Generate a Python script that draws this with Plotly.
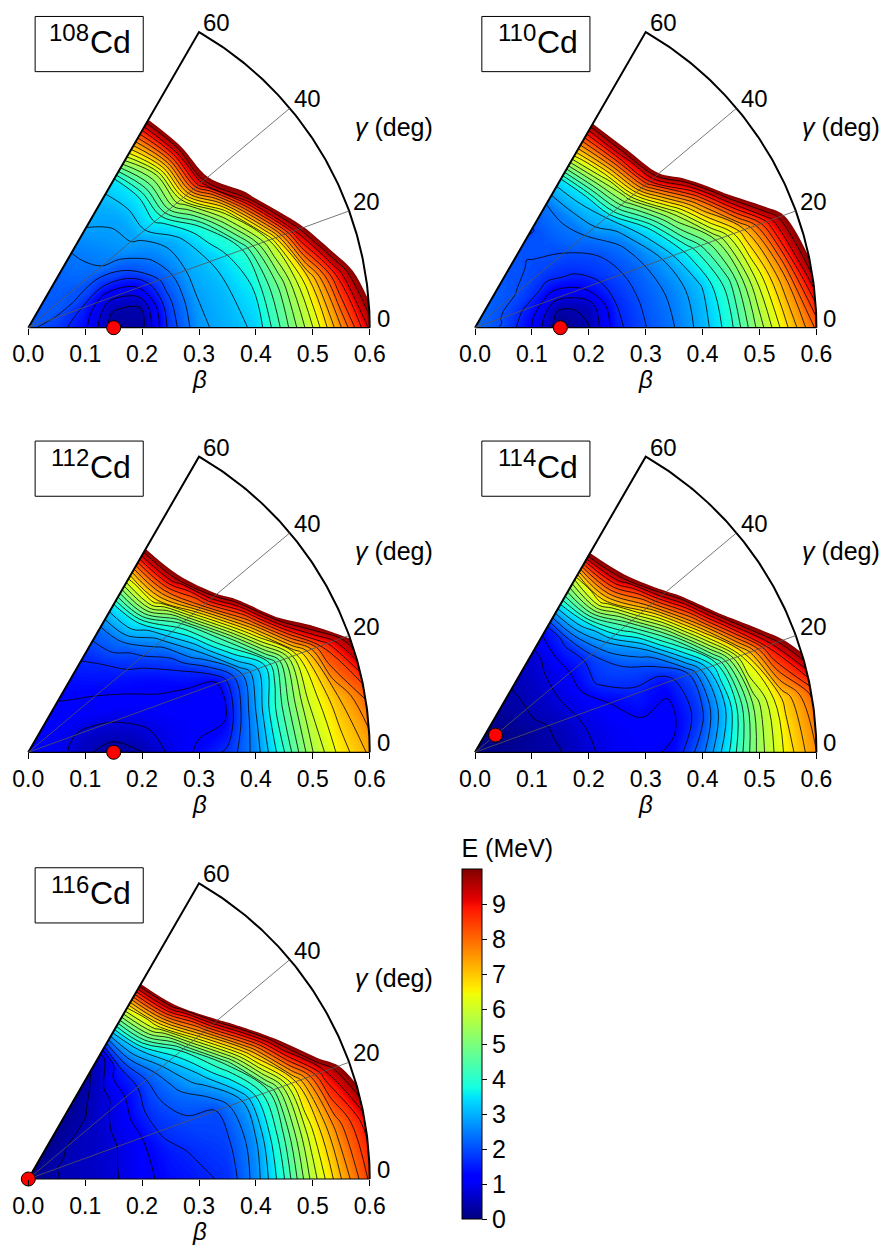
import numpy as np
import plotly.graph_objects as go

# deformation grid (beta, gamma in degrees)
beta = [0.0, 0.05, 0.1, 0.15, 0.2, 0.25, 0.3, 0.35, 0.4, 0.45, 0.5, 0.55, 0.6]
gamma = [0, 10, 20, 30, 40, 50, 60]

# E (MeV): one row per gamma (0..60), one column per beta (0..0.6)
e_cd108 = [
    [2.1, 1.8, 1.3, 0.2, 0.3, 1.8, 2.7, 3.0, 3.3, 4.6, 6.0, 7.6, 9.3],
    [2.1, 1.9, 1.4, 0.4, 0.4, 1.9, 2.8, 3.1, 3.6, 5.0, 6.8, 8.9, 10.8],
    [2.1, 2.0, 1.6, 0.9, 1.1, 2.1, 2.9, 3.3, 4.0, 6.0, 9.3, 11.5, 13.0],
    [2.1, 2.1, 2.0, 1.7, 2.0, 2.5, 3.0, 3.9, 6.0, 9.6, 12.0, 13.5, 15.0],
    [2.1, 2.1, 2.1, 2.3, 2.6, 2.9, 3.8, 6.0, 9.5, 11.5, 13.0, 14.5, 16.0],
    [2.1, 2.1, 2.2, 2.4, 2.7, 2.9, 3.6, 5.6, 9.0, 12.0, 13.5, 15.0, 16.0],
    [2.1, 2.1, 2.2, 2.4, 2.8, 3.0, 3.5, 6.2, 8.8, 11.5, 13.5, 15.0, 16.0],
]
e_cd110 = [
    [2.3, 1.95, 1.2, 0.1, 0.4, 1.5, 2.0, 2.4, 3.0, 3.9, 5.4, 6.8, 8.1],
    [2.3, 2.0, 1.3, 0.3, 0.5, 1.6, 2.1, 2.5, 3.1, 4.2, 6.0, 7.6, 9.8],
    [2.3, 2.0, 1.5, 0.9, 1.2, 1.8, 2.2, 2.8, 3.8, 5.2, 7.0, 9.0, 10.8],
    [2.3, 2.05, 1.8, 1.5, 1.7, 2.0, 2.5, 3.6, 5.6, 8.0, 10.7, 12.5, 14.0],
    [2.3, 2.1, 2.0, 1.9, 2.0, 2.4, 3.2, 5.5, 8.8, 11.5, 13.0, 14.5, 16.0],
    [2.3, 2.15, 2.05, 2.0, 2.1, 2.5, 3.5, 6.2, 9.4, 12.0, 13.5, 15.0, 16.0],
    [2.3, 2.2, 2.1, 2.05, 2.0, 2.4, 3.5, 6.5, 9.2, 12.0, 13.5, 15.0, 16.0],
]
e_cd112 = [
    [1.1, 1.0, 0.5, 0.2, 0.4, 0.9, 1.3, 1.7, 2.6, 4.0, 5.6, 6.6, 7.3],
    [1.1, 1.0, 0.6, 0.5, 0.7, 1.0, 1.1, 1.15, 2.6, 4.3, 6.0, 7.1, 8.1],
    [1.1, 1.0, 0.75, 0.8, 1.0, 1.15, 1.1, 1.1, 2.4, 3.8, 6.3, 8.5, 10.1],
    [1.1, 1.05, 1.0, 1.1, 1.2, 1.3, 1.7, 2.8, 4.6, 7.6, 10.8, 12.5, 14.0],
    [1.1, 1.05, 1.1, 1.2, 1.4, 1.8, 2.6, 4.3, 8.0, 11.0, 12.5, 14.0, 15.5],
    [1.1, 1.1, 1.15, 1.3, 1.6, 2.3, 3.7, 6.8, 9.6, 12.0, 13.5, 15.0, 16.0],
    [1.1, 1.1, 1.2, 1.4, 1.7, 2.3, 3.6, 6.3, 9.3, 12.0, 13.5, 15.0, 16.0],
]
e_cd114 = [
    [0.1, 0.15, 0.25, 0.4, 0.75, 1.0, 1.1, 1.3, 2.3, 3.7, 5.4, 6.6, 7.6],
    [0.1, 0.12, 0.25, 0.45, 0.8, 1.05, 1.15, 1.1, 1.8, 3.3, 5.4, 6.9, 8.1],
    [0.1, 0.05, 0.2, 0.5, 0.9, 1.2, 1.5, 1.3, 2.0, 3.8, 6.5, 9.0, 10.8],
    [0.1, 0.0, 0.3, 0.6, 1.0, 1.7, 2.0, 2.6, 4.5, 7.5, 10.5, 12.5, 14.0],
    [0.1, 0.0, 0.3, 0.6, 1.0, 1.6, 2.8, 4.6, 7.6, 10.6, 12.5, 14.0, 15.5],
    [0.1, 0.05, 0.3, 0.55, 0.9, 1.7, 3.6, 6.8, 9.6, 12.0, 13.5, 15.0, 16.0],
    [0.1, 0.1, 0.3, 0.5, 0.7, 1.4, 3.6, 6.0, 9.8, 12.0, 13.5, 15.0, 16.0],
]
e_cd116 = [
    [0.0, 0.4, 0.55, 0.75, 1.1, 1.35, 1.5, 1.7, 2.6, 4.0, 5.8, 7.2, 8.5],
    [0.0, 0.4, 0.55, 0.75, 1.1, 1.45, 1.7, 1.85, 2.6, 4.2, 6.2, 7.8, 9.0],
    [0.0, 0.4, 0.55, 0.7, 1.05, 1.7, 1.95, 2.0, 2.8, 4.4, 6.8, 9.0, 10.6],
    [0.0, 0.35, 0.5, 0.65, 1.1, 1.8, 2.3, 3.0, 4.3, 7.2, 10.2, 12.5, 14.0],
    [0.0, 0.3, 0.45, 0.6, 0.9, 1.6, 2.6, 4.0, 7.5, 11.0, 12.5, 14.0, 15.5],
    [0.0, 0.15, 0.25, 0.35, 0.7, 1.5, 3.3, 6.3, 10.0, 12.0, 13.5, 15.0, 16.0],
    [0.0, 0.1, 0.15, 0.2, 0.3, 0.6, 3.4, 6.6, 10.3, 12.0, 13.5, 15.0, 16.0],
]

mass_numbers = ['108', '110', '112', '114', '116']
surfaces = [e_cd108, e_cd110, e_cd112, e_cd114, e_cd116]

# ground-state minima (red dots)
min_beta = [0.15, 0.15, 0.15, 0.047, 0.0]
min_gamma = [0, 0, 0, 40, 0]

beta_ticks = [0.0, 0.1, 0.2, 0.3, 0.4, 0.5, 0.6]
gamma_ticks = [0, 20, 40, 60]
cbar_ticks = [0, 1, 2, 3, 4, 5, 6, 7, 8, 9]
e_max = 10

jet = [[0.0, 'rgb(0,0,128)'], [0.11, 'rgb(0,0,255)'], [0.125, 'rgb(0,0,255)'],
       [0.34, 'rgb(0,219,255)'], [0.35, 'rgb(0,229,247)'], [0.375, 'rgb(20,255,226)'],
       [0.64, 'rgb(238,255,8)'], [0.65, 'rgb(247,245,0)'], [0.66, 'rgb(255,236,0)'],
       [0.89, 'rgb(255,19,0)'], [0.91, 'rgb(232,0,0)'], [1.0, 'rgb(128,0,0)']]

# page has an 8 px body margin, so the figure starts at (8, 8)
PAD = 8
W, H = 891 - PAD, 1257 - PAD
K = 569.0  # pixels per beta unit
origins = [(28.3, 327.7), (475.0, 327.7), (28.3, 752.3), (475.0, 752.3), (28.3, 1179.0)]
XR = [-0.03, 0.72]
YR = [-0.04, 0.56]
FONT = 'Liberation Sans, Arial, sans-serif'
# levels sit a hair off the grid values so no node lies exactly on a contour
EPS = 0.013


def px(x):
    return (x - PAD) / W


def py(y):
    return 1 - (y - PAD) / H


fig = go.Figure()
b_arr = np.array(beta)
g_rad = np.radians(gamma)
cx = np.outer(np.cos(g_rad), b_arr)
cy = np.outer(np.sin(g_rad), b_arr)
bmax = beta[-1]
gmax = gamma[-1]
arc_t = np.radians(np.linspace(gmax, 0, 121))

hidden_ax = dict(showgrid=False, showline=False, showticklabels='none',
                 startline=False, endline=False, minorgridcount=0)

for k, (A, E) in enumerate(zip(mass_numbers, surfaces)):
    n = '' if k == 0 else str(k + 1)
    xa, ya = 'x' + n, 'y' + n
    cid = 'c' + str(k)
    ox, oy = origins[k]

    fig.add_trace(go.Carpet(a=beta, b=gamma, x=cx, y=cy, carpet=cid,
                            aaxis=hidden_ax, baxis=hidden_ax,
                            xaxis=xa, yaxis=ya))
    fig.add_trace(go.Contourcarpet(
        a=beta, b=gamma, z=E, carpet=cid, colorscale=jet,
        zmin=0, zmax=e_max, autocontour=False,
        contours=dict(start=0.025, end=e_max - 0.025, size=0.05, coloring='fill',
                      showlines=False),
        line=dict(width=0), showscale=False, xaxis=xa, yaxis=ya))
    # blank out everything above e_max
    fig.add_trace(go.Contourcarpet(
        a=beta, b=gamma, z=E, carpet=cid,
        contours=dict(type='constraint', operation='<', value=e_max - EPS),
        fillcolor='white', line=dict(width=0), showscale=False, xaxis=xa, yaxis=ya))
    fig.add_trace(go.Contourcarpet(
        a=beta, b=gamma, z=E, carpet=cid, autocontour=False,
        contours=dict(start=0.4 + EPS, end=9.6 + EPS, size=0.4, coloring='none'),
        line=dict(color='black', width=0.8), showscale=False, xaxis=xa, yaxis=ya))

    # sector frame
    fx = [0, bmax * np.cos(np.radians(gmax))] + list(bmax * np.cos(arc_t))
    fy = [0, bmax * np.sin(np.radians(gmax))] + list(bmax * np.sin(arc_t))
    fig.add_trace(go.Scatter(x=fx, y=fy, mode='lines', line=dict(color='black', width=2),
                             xaxis=xa, yaxis=ya, hoverinfo='skip', showlegend=False))
    fig.add_trace(go.Scatter(x=[0, bmax], y=[0, 0], mode='lines',
                             line=dict(color='black', width=1.2),
                             xaxis=xa, yaxis=ya, hoverinfo='skip', showlegend=False))
    rx, ry = [], []
    for g in gamma_ticks[1:-1]:
        rx += [0, bmax * np.cos(np.radians(g)), None]
        ry += [0, bmax * np.sin(np.radians(g)), None]
    fig.add_trace(go.Scatter(x=rx, y=ry, mode='lines', line=dict(color='#555', width=0.8),
                             xaxis=xa, yaxis=ya, hoverinfo='skip', showlegend=False))

    # minimum
    mb, mg = min_beta[k], np.radians(min_gamma[k])
    fig.add_trace(go.Scatter(x=[mb * np.cos(mg)], y=[mb * np.sin(mg)], mode='markers',
                             marker=dict(size=14, color='red', line=dict(color='black', width=1)),
                             cliponaxis=False, xaxis=xa, yaxis=ya, showlegend=False))

    fig.layout['xaxis' + n] = dict(
        range=XR, domain=[px(ox + XR[0] * K), px(ox + XR[1] * K)],
        anchor='free', position=py(oy),
        tickvals=beta_ticks, tickformat='.1f', ticks='outside', ticklen=6,
        tickwidth=1, tickcolor='black', showline=False, showgrid=False,
        zeroline=False, tickfont=dict(size=23, color='black', family=FONT))
    fig.layout['yaxis' + n] = dict(range=YR, domain=[py(oy - YR[0] * K), py(oy - YR[1] * K)],
                                   visible=False)

    # labels
    for g in gamma_ticks:
        fig.add_annotation(x=bmax * np.cos(np.radians(g)), y=bmax * np.sin(np.radians(g)),
                           xref=xa, yref=ya, text=str(g), showarrow=False,
                           xanchor='left', yanchor='bottom', xshift=5 if g == 0 else 2,
                           yshift=-6, font=dict(size=24, color='black', family=FONT))
    fig.add_annotation(x=0.643, y=0.353, xref=xa, yref=ya, text='<i>γ</i> (deg)',
                       showarrow=False, font=dict(size=25, color='black', family=FONT))
    fig.add_annotation(x=0.3, y=0, xref=xa, yref=ya, text='<i>β</i>', showarrow=False,
                       yshift=-52, font=dict(size=24, color='black', family=FONT))
    fig.add_shape(type='rect', xref=xa, yref=ya, x0=0.012, x1=0.202, y0=0.450, y1=0.547,
                  line=dict(color='black', width=1), fillcolor='white')
    fig.add_annotation(x=0.107, y=0.497, xref=xa, yref=ya, text=A,
                       showarrow=False, xanchor='right', yanchor='middle', xshift=2,
                       yshift=12, font=dict(size=24, color='black', family=FONT))
    fig.add_annotation(x=0.107, y=0.497, xref=xa, yref=ya, text='Cd',
                       showarrow=False, xanchor='left', yanchor='middle', xshift=-1,
                       yshift=3, font=dict(size=32, color='black', family=FONT))

# colour bar
fig.add_trace(go.Scatter(
    x=[None], y=[None], mode='markers', showlegend=False, xaxis='x', yaxis='y',
    marker=dict(color=[0], colorscale=jet, cmin=0, cmax=e_max, showscale=True,
                colorbar=dict(x=px(452), xanchor='left', y=py(1027.5), yanchor='middle',
                              len=403 / H, lenmode='fraction', thickness=20,
                              thicknessmode='pixels', outlinecolor='black', outlinewidth=1,
                              ticks='outside', ticklen=5, tickcolor='black',
                              tickvals=cbar_ticks,
                              tickfont=dict(size=25, color='black', family=FONT),
                              title=dict(text='E (MeV)', side='top',
                                         font=dict(size=25, color='black', family=FONT))))))

fig.update_layout(width=W, height=H, margin=dict(l=0, r=0, t=0, b=0),
                  paper_bgcolor='white', plot_bgcolor='white', showlegend=False,
                  font=dict(family=FONT, color='black'))

fig.write_html('out.html')
